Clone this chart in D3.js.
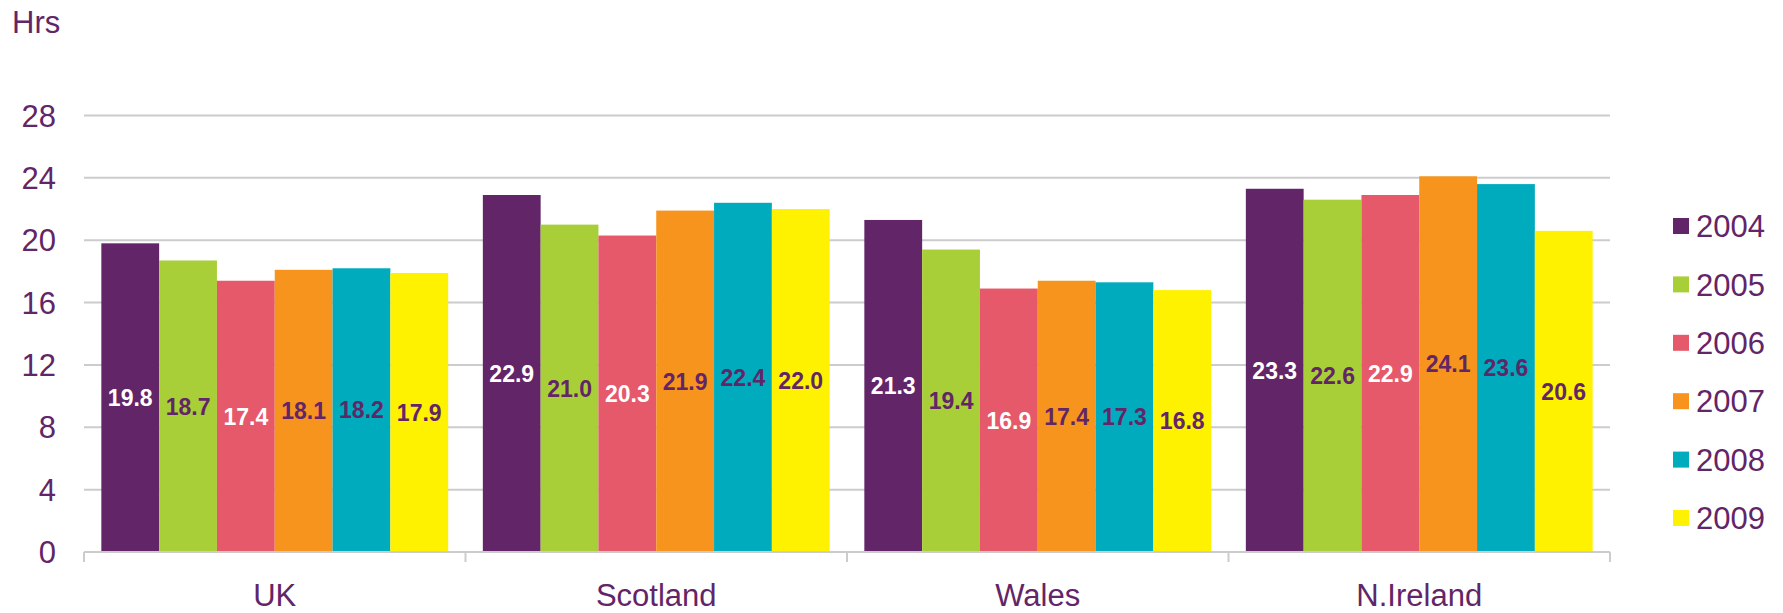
<!DOCTYPE html>
<html>
<head>
<meta charset="utf-8">
<script src="https://cdn.jsdelivr.net/npm/d3@7"></script>
<style>
  body { margin: 0; background: #fff; }
  text { font-family: "Liberation Sans", Arial, sans-serif; }
</style>
</head>
<body>
<div id="chart"></div>
<script>

// data
var regions = ["UK", "Scotland", "Wales", "N.Ireland"];
var years = ["2004", "2005", "2006", "2007", "2008", "2009"];
var hrs2004 = [19.8, 22.9, 21.3, 23.3];
var hrs2005 = [18.7, 21.0, 19.4, 22.6];
var hrs2006 = [17.4, 20.3, 16.9, 22.9];
var hrs2007 = [18.1, 21.9, 17.4, 24.1];
var hrs2008 = [18.2, 22.4, 17.3, 23.6];
var hrs2009 = [17.9, 22.0, 16.8, 20.6];
var yTicks = [0, 4, 8, 12, 16, 20, 24, 28];

var series = [hrs2004, hrs2005, hrs2006, hrs2007, hrs2008, hrs2009];
var colors = ["#622567", "#a9cf38", "#e5596b", "#f7941d", "#00abbd", "#fff200"];
var labelColors = ["#ffffff", "#622567", "#ffffff", "#622567", "#622567", "#622567"];
var txt = "#622567";

var width = 1783,
    height = 613;

var svg = d3.select("#chart").append("svg")
    .attr("width", width)
    .attr("height", height);

var x0 = d3.scaleBand()
    .domain(regions)
    .range([84, 1610])
    .paddingInner(0)
    .paddingOuter(0);

var x1 = d3.scaleBand()
    .domain(years)
    .range([0, x0.bandwidth()])
    .paddingInner(0)
    .paddingOuter(0.3);

var y = d3.scaleLinear()
    .domain([0, 28])
    .range([552, 115.5]);

// gridlines
svg.append("g")
    .selectAll("line")
    .data(yTicks.filter(function(d) { return d > 0; }))
    .enter().append("line")
    .attr("x1", 84)
    .attr("x2", 1610)
    .attr("y1", function(d) { return y(d); })
    .attr("y2", function(d) { return y(d); })
    .attr("stroke", "#cccccc")
    .attr("stroke-width", 2);

// y tick labels
svg.append("g")
    .selectAll("text")
    .data(yTicks)
    .enter().append("text")
    .attr("x", 56)
    .attr("y", function(d) { return y(d); })
    .attr("dy", "0.36em")
    .attr("text-anchor", "end")
    .attr("font-size", 31)
    .attr("fill", txt)
    .text(function(d) { return d; });

svg.append("text")
    .attr("x", 12)
    .attr("y", 33)
    .attr("font-size", 31)
    .attr("fill", txt)
    .text("Hrs");

// bars
var rows = regions.map(function(r, i) {
    return years.map(function(yr, j) {
        return { region: r, year: yr, idx: j, value: series[j][i] };
    });
});

var group = svg.append("g")
    .selectAll("g")
    .data(rows)
    .enter().append("g")
    .attr("transform", function(d, i) { return "translate(" + x0(regions[i]) + ",0)"; });

group.selectAll("rect")
    .data(function(d) { return d; })
    .enter().append("rect")
    .attr("x", function(d) { return x1(d.year); })
    .attr("y", function(d) { return y(d.value); })
    .attr("width", x1.bandwidth())
    .attr("height", function(d) { return y(0) - y(d.value); })
    .attr("fill", function(d) { return colors[d.idx]; });

group.selectAll("text")
    .data(function(d) { return d; })
    .enter().append("text")
    .attr("x", function(d) { return x1(d.year) + x1.bandwidth() / 2; })
    .attr("y", function(d) { return y(d.value / 2); })
    .attr("dy", "0.36em")
    .attr("text-anchor", "middle")
    .attr("font-size", 23)
    .attr("font-weight", "bold")
    .attr("fill", function(d) { return labelColors[d.idx]; })
    .text(function(d) { return d.value.toFixed(1); });

// x axis
var xAxis = svg.append("g");
xAxis.append("line")
    .attr("x1", 84)
    .attr("x2", 1610)
    .attr("y1", 552)
    .attr("y2", 552)
    .attr("stroke", "#cccccc")
    .attr("stroke-width", 2);

var edges = regions.map(function(r) { return x0(r); }).concat([x0.range()[1]]);
xAxis.selectAll(".tick")
    .data(edges)
    .enter().append("line")
    .attr("class", "tick")
    .attr("x1", function(d) { return d; })
    .attr("x2", function(d) { return d; })
    .attr("y1", 552)
    .attr("y2", 562)
    .attr("stroke", "#cccccc")
    .attr("stroke-width", 2);

xAxis.selectAll("text")
    .data(regions)
    .enter().append("text")
    .attr("x", function(d) { return x0(d) + x0.bandwidth() / 2; })
    .attr("y", 606)
    .attr("text-anchor", "middle")
    .attr("font-size", 31)
    .attr("fill", txt)
    .text(function(d) { return d; });

// legend
var legend = svg.append("g")
    .selectAll("g")
    .data(years)
    .enter().append("g")
    .attr("transform", function(d, i) { return "translate(1673," + (226 + i * 58.4) + ")"; });

legend.append("rect")
    .attr("x", 0)
    .attr("y", -8)
    .attr("width", 16)
    .attr("height", 16)
    .attr("fill", function(d, i) { return colors[i]; });

legend.append("text")
    .attr("x", 23)
    .attr("y", 0)
    .attr("dy", "0.36em")
    .attr("font-size", 31)
    .attr("fill", txt)
    .text(function(d) { return d; });

</script>
</body>
</html>
